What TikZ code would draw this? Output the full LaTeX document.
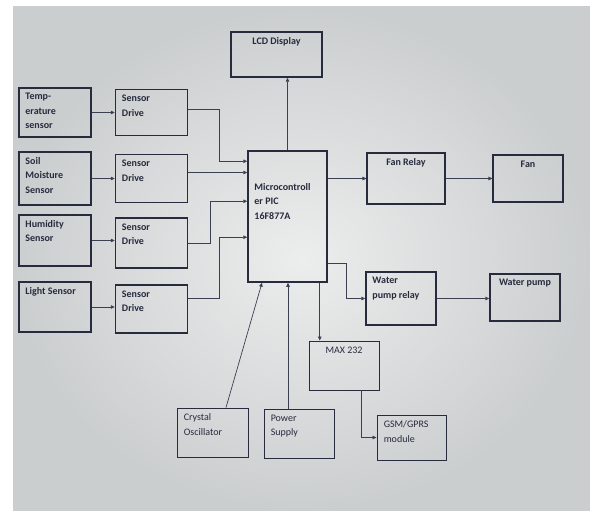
\documentclass[tikz,border=0pt]{standalone}
\usepackage{fontspec}
\setmainfont{Carlito}
\usetikzlibrary{positioning}
\usetikzlibrary{arrows.meta}

\definecolor{ink}{HTML}{262B3E}
\definecolor{wire}{HTML}{3A4052}
\definecolor{paper}{HTML}{ECEDED}
\definecolor{shadow}{HTML}{CBCECF}

\begin{document}
\begin{tikzpicture}[
  x=1pt, y=-1pt,
  font=\fontsize{10}{14.5}\selectfont,
  box/.style={draw=ink, line width=1.5pt, minimum width=72pt, minimum height=48pt, inner sep=0pt},
  thinbox/.style={box, line width=0.9pt},
  lab/.style={anchor=north west, align=left, inner xsep=7pt, inner ysep=6pt, text=ink, font=\fontsize{10}{14.5}\selectfont\bfseries},
  plainlab/.style={lab, font=\fontsize{10}{14.5}\selectfont},
  head/.style={anchor=north, inner ysep=6pt, text=ink, font=\fontsize{10}{14.5}\selectfont\bfseries},
  arrow/.style={-{Triangle[length=4pt, width=3.5pt]}, draw=wire, line width=0.7pt}
]

\useasboundingbox (0,0) rectangle (590,511);
\fill[white] (0,0) rectangle (590,511);
\shade[inner color=paper, outer color=shadow] (13,7) rectangle (590,511);

% sensors
\node[box, minimum height=49pt, label={[lab]north west:{Temp-\\erature\\sensor}}] (temp) at (55,112.5) {};
\node[box, minimum height=53pt, label={[lab]north west:{Soil\\Moisture\\Sensor}}] (soil) at (55,178.5) {};
\node[box, minimum height=51pt, label={[lab]north west:{Humidity\\Sensor}}] (hum) at (55,240.5) {};
\node[box, minimum height=50pt, label={[lab]north west:{Light Sensor}}] (light) at (55,307) {};

% sensor drives
\node[box, minimum height=46pt, right=23pt of temp, label={[lab]north west:{Sensor\\Drive}}] (sd1) {};
\node[box, right=23pt of soil, label={[lab]north west:{Sensor\\Drive}}] (sd2) {};
\node[box, minimum height=50pt, right=23pt of hum, yshift=-2.5pt, label={[lab]north west:{Sensor\\Drive}}] (sd3) {};
\node[box, right=23pt of light, yshift=-2pt, label={[lab]north west:{Sensor\\Drive}}] (sd4) {};

\node[box, minimum width=79pt, minimum height=131pt, label={[lab, yshift=-27pt]north west:{Microcontroll\\er PIC\\16F877A}}] (mcu) at (287.5,216.5) {};
\node[box, minimum width=91pt, minimum height=45pt, label={[head]north:{LCD Display}}] (lcd) at (276.5,54.5) {};

% outputs
\node[box, minimum width=78pt, minimum height=51pt, line width=1.1pt, label={[head]north:{Fan Relay}}] (frelay) at (406,178.5) {};
\node[box, minimum width=70pt, minimum height=47pt, line width=1.1pt, label={[head]north:{Fan}}] (fan) at (528,178.5) {};
\node[box, minimum width=70pt, minimum height=53pt, label={[lab]north west:{Water\\pump relay}}] (wpr) at (401,298.5) {};
\node[box, minimum width=70pt, minimum height=47pt, label={[head]north:{Water pump}}] (wp) at (525,297.5) {};

\node[thinbox, minimum width=70pt, minimum height=49pt, label={[head, font=\fontsize{10}{14.5}\selectfont]north:{MAX 232}}] (max232) at (344,365.5) {};
\node[thinbox, minimum width=69pt, minimum height=45pt, label={[plainlab]north west:{GSM/GPRS\\module}}] (gsm) at (411.5,437.5) {};
\node[thinbox, minimum width=71pt, minimum height=49pt, label={[plainlab]north west:{Crystal\\Oscillator}}] (crystal) at (212.5,432.5) {};
\node[thinbox, minimum width=70pt, minimum height=49pt, label={[plainlab]north west:{Power\\Supply}}] (power) at (299,433.5) {};

% sensor -> drive
\draw[arrow] (temp.east) -- (temp.east -| sd1.west);
\draw[arrow] (soil.east) -- (soil.east -| sd2.west);
\draw[arrow] (hum.east) -- (hum.east -| sd3.west);
\draw[arrow] (light.east) -- (light.east -| sd4.west);

% drive -> microcontroller
\draw[arrow] ([yshift=3pt]sd1.east) -- ++(31,0) |- ([yshift=-11pt]mcu.north west);
\draw[arrow] ([yshift=6pt]sd2.east) -- ([yshift=6pt]sd2.east -| mcu.west);
\draw[arrow] (sd3.east) -- ++(22,0) |- ([yshift=-51pt]mcu.north west);
\draw[arrow] ([yshift=11pt]sd4.east) -- ++(31,0) |- ([yshift=-87pt]mcu.north west);

\draw[arrow] (mcu.north) -- (mcu.north |- lcd.south);
\draw[arrow] (mcu.east |- frelay.west) -- (frelay.west);
\draw[arrow] (frelay.east) -- (frelay.east -| fan.west);
\draw[arrow] ([yshift=19pt]mcu.south east) -- ++(19,0) |- (wpr.west);
\draw[arrow] (wpr.east) -- (wpr.east -| wp.west);

\coordinate (mxin) at ([xshift=-8pt]mcu.south east);
\draw[arrow] (mxin) -- (mxin |- max232.north);
\draw[arrow] ([xshift=17pt]max232.south) |- (gsm.west);

% clock and supply
\draw[arrow] ([xshift=13.5pt]crystal.north) -- ([xshift=-25.5pt]mcu.south);
\coordinate (psout) at ([xshift=-11pt]power.north);
\draw[arrow] (psout) -- (psout |- mcu.south);

\end{tikzpicture}
\end{document}
